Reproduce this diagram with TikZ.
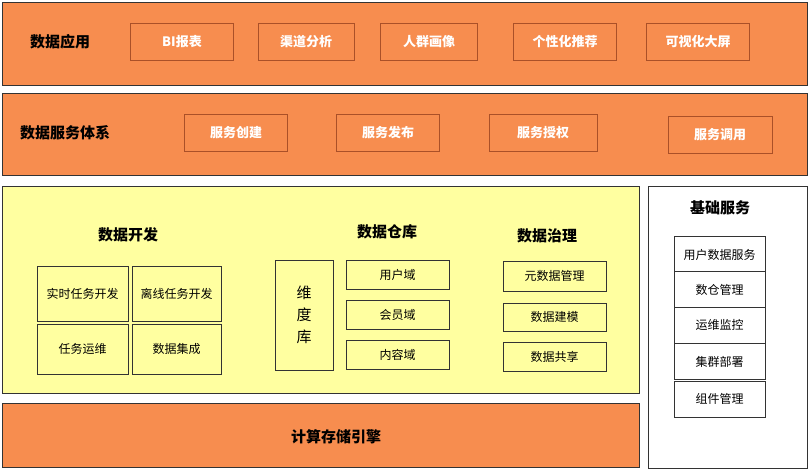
\documentclass[tikz,border=0pt]{standalone}
\usepackage{fontspec}
\setmainfont{Noto Sans CJK SC}
\definecolor{bandorange}{RGB}{247,141,79}
\definecolor{boxborder}{RGB}{170,80,40}
\definecolor{lightyellow}{RGB}{255,255,160}
\tikzset{
  band/.style={draw=black!80,line width=0.8pt,fill=bandorange},
  item/.style={draw=boxborder,line width=0.8pt,fill=bandorange,minimum height=37pt,
    font=\fontsize{13}{15}\selectfont\bfseries,text=white},
  cell/.style={draw=black!80,line width=0.7pt,fill=lightyellow,
    font=\fontsize{12}{14}\selectfont},
  title/.style={font=\fontsize{15}{18}\selectfont\bfseries}
}
\begin{document}
\begin{tikzpicture}[x=1pt,y=-1pt]
\useasboundingbox (0,0) rectangle (811,472);
% top bands
\draw[band] (2,2) rectangle (807,85);
\node[title] (app) at (60,42) {数据应用};
\node[item,minimum width=103pt] (bi) at (182,42) {BI报表};
\node[item,minimum width=96pt] (qd) at (306,42) {渠道分析};
\node[item,minimum width=97pt] (rq) at (429,42) {人群画像};
\node[item,minimum width=103pt] (gx) at (565,42) {个性化推荐};
\node[item,minimum width=103pt] (ks) at (698,42) {可视化大屏};

\draw[band] (2,93) rectangle (807,175);
\node[title] (svc) at (65,133) {数据服务体系};
\node[item,minimum width=103pt] (cj) at (236,133) {服务创建};
\node[item,minimum width=103pt] (fb) at (388,133) {服务发布};
\node[item,minimum width=108pt] (sq) at (543,133) {服务授权};
\node[item,minimum width=104pt] (dy) at (720,135) {服务调用};

% data platform
\draw[draw=black!80,line width=0.8pt,fill=lightyellow] (2,186) rectangle (639,393);
\node[title] (dev) at (128,235) {数据开发};
\node[cell,minimum width=91pt,minimum height=55pt] (ss) at (82.5,293.5) {实时任务开发};
\node[cell,minimum width=89pt,minimum height=55pt] (lx) at (176.5,293.5) {离线任务开发};
\node[cell,minimum width=91pt,minimum height=50pt] (yw) at (82.5,349) {任务运维};
\node[cell,minimum width=89pt,minimum height=50pt] (jc) at (176.5,349) {数据集成};

\node[title] (dw) at (387,232) {数据仓库};
\node[cell,minimum width=58pt,minimum height=110pt,align=center,
  font=\fontsize{15}{22}\selectfont] (wd) at (304,315) {维\\度\\库};
\node[cell,minimum width=103pt,minimum height=29pt] (yh) at (397.5,274.5) {用户域};
\node[cell,minimum width=103pt,minimum height=29pt] (hy) at (397.5,314.5) {会员域};
\node[cell,minimum width=103pt,minimum height=29pt] (nr) at (397.5,354.5) {内容域};

\node[title] (zl) at (547,236) {数据治理};
\node[cell,minimum width=103pt,minimum height=30pt] (ysj) at (554.5,276) {元数据管理};
\node[cell,minimum width=103pt,minimum height=28pt] (jm) at (554.5,317) {数据建模};
\node[cell,minimum width=103pt,minimum height=29pt] (gxs) at (554.5,356.5) {数据共享};

% engine
\draw[band] (2,403) rectangle (639,467);
\node[title] (eng) at (336,437) {计算存储引擎};

% base services
\draw[draw=black!80,line width=0.8pt,fill=white] (648,186) rectangle (807,468);
\node[title] (base) at (720,208) {基础服务};
\foreach \name/\txt/\y in {u/用户数据服务/254.5,c/数仓管理/289.5,o/运维监控/325,
  g/集群部署/361.5,z/组件管理/399}
  \node[cell,fill=white,minimum width=91pt,minimum height=36pt] (\name) at (719.5,\y) {\txt};
\end{tikzpicture}
\end{document}
